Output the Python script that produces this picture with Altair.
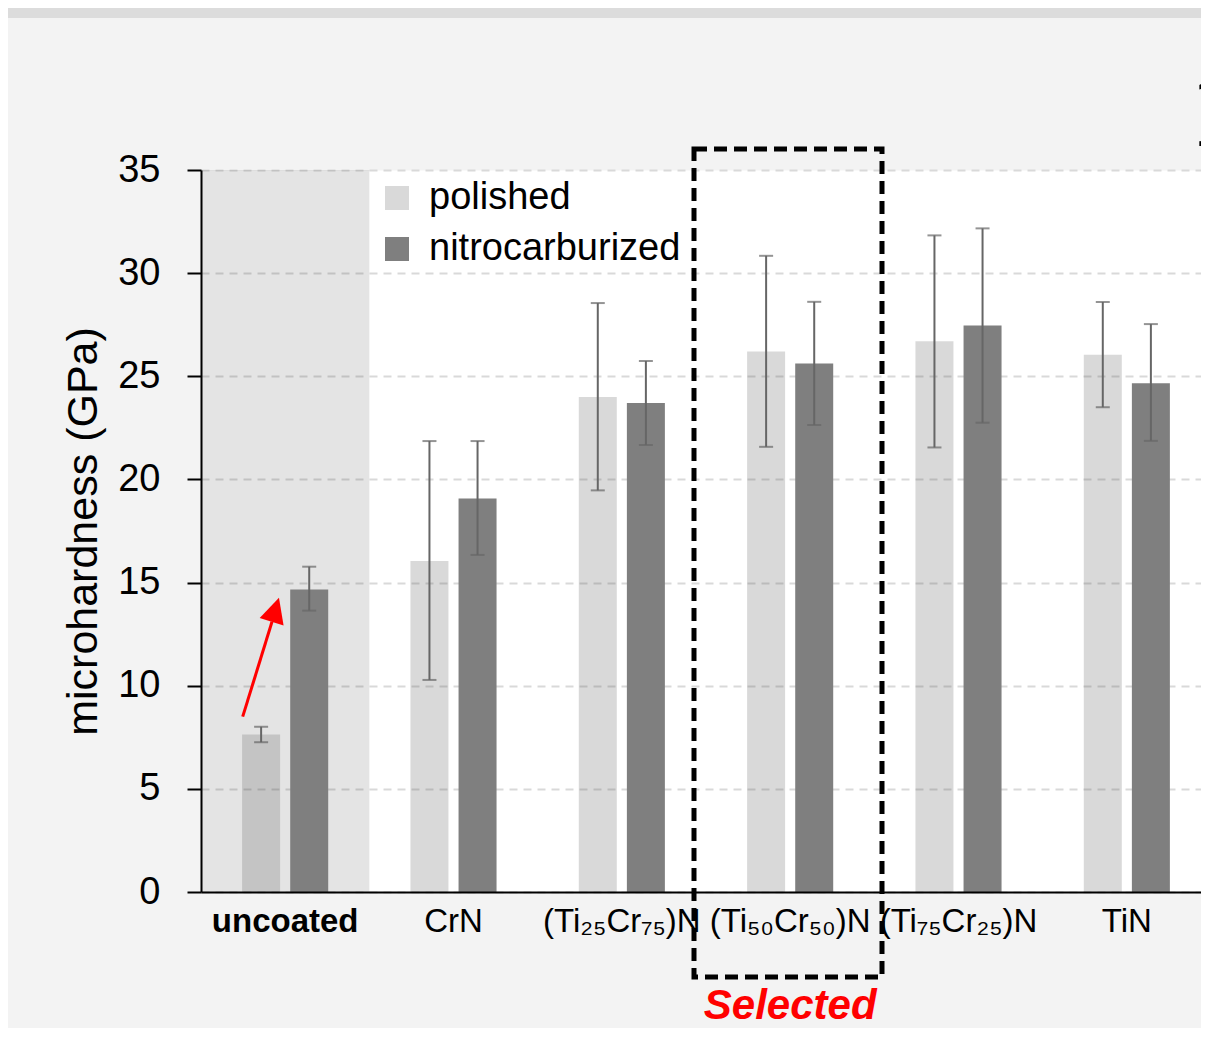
import altair as alt
import pandas as pd

# ---- data ----
categories = ["uncoated", "CrN", "(Ti₂₅Cr₇₅)N", "(Ti₅₀Cr₅₀)N", "(Ti₇₅Cr₂₅)N", "TiN"]
series = ["polished", "nitrocarburized"]

polished = [7.63, 16.05, 24.0, 26.2, 26.7, 26.05]
polished_lo = [7.26, 10.28, 19.47, 21.58, 21.55, 23.5]
polished_hi = [8.01, 21.86, 28.55, 30.84, 31.83, 28.6]

nitro = [14.67, 19.08, 23.7, 25.62, 27.46, 24.66]
nitro_lo = [13.64, 16.34, 21.67, 22.64, 22.75, 21.87]
nitro_hi = [15.77, 21.86, 25.74, 28.61, 32.17, 27.53]

y_ticks = [0, 5, 10, 15, 20, 25, 30, 35]

rows = []
for i, c in enumerate(categories):
    rows.append({"cat": c, "series": "polished", "v": polished[i], "lo": polished_lo[i], "hi": polished_hi[i]})
    rows.append({"cat": c, "series": "nitrocarburized", "v": nitro[i], "lo": nitro_lo[i], "hi": nitro_hi[i]})
df = pd.DataFrame(rows)

FONT = "Liberation Sans"
W, H = 1000, 722
XR = 1010  # band range extends past the visible edge, as in the cropped original

xscale = alt.Scale(domain=categories, paddingInner=0, paddingOuter=0, range=[0, XR])
xoff_scale = alt.Scale(domain=series, paddingInner=0.208, paddingOuter=0.854)
yscale = alt.Scale(domain=[0, 35], nice=False, zero=True)

one = alt.Data(values=[{"k": 1}])

# top strip of the page
strip = alt.Chart(one).mark_rect(color="#dcdcdc").encode(
    x=alt.value(-193), x2=alt.value(W), y=alt.value(-162), y2=alt.value(-152)
)

# translucent band behind the uncoated group
shade = alt.Chart(alt.Data(values=[{"cat": "uncoated"}])).mark_rect(color="black", opacity=0.105).encode(
    x=alt.X("cat:N", scale=xscale, sort=categories),
    y=alt.datum(0), y2=alt.datum(35),
)

base = alt.Chart(df)

bars = base.mark_bar(size=38).encode(
    x=alt.X("cat:N", scale=xscale, sort=categories,
            axis=alt.Axis(title=None, labelAngle=0, labelAlign="center", labelBaseline="top",
                          labelFontSize=33, labelFont=FONT,
                          labelColor="black", labelPadding=13, ticks=False,
                          domainColor="black", domainWidth=2, labelOverlap=False,
                          labelLimit=300, grid=False,
                          labelFontWeight={"condition": {"test": "datum.value == 'uncoated'", "value": "bold"}, "value": "normal"})),
    xOffset=alt.XOffset("series:N", scale=xoff_scale, sort=series),
    y=alt.Y("v:Q", scale=yscale,
            axis=alt.Axis(title="microhardness (GPa)", values=y_ticks, labelFontSize=38,
                          labelFont=FONT, labelColor="black", labelPadding=27,
                          tickSize=14, tickColor="black", tickWidth=2,
                          domainColor="black", domainWidth=2,
                          grid=True, gridColor="#d9d9d9", gridDash=[8, 6], gridWidth=2,
                          titleFont=FONT, titleFontSize=43, titleFontWeight="normal",
                          titleColor="black", titlePadding=12)),
    color=alt.Color("series:N", sort=series,
                    scale=alt.Scale(domain=series, range=["#545454", "#7f7f7f"]),
                    legend=alt.Legend(title=None, orient="none", legendX=177, legendY=9,
                                      labelFont=FONT, labelFontSize=38, labelColor="black",
                                      symbolType="square", symbolSize=576, symbolStrokeWidth=0,
                                      rowPadding=13, labelOffset=13, labelLimit=400)),
    opacity=alt.Opacity("series:N", sort=series,
                        scale=alt.Scale(domain=series, range=[0.222, 1.0]), legend=None),
)

err = base.mark_rule(color="#666666", strokeWidth=2).encode(
    x=alt.X("cat:N", scale=xscale, sort=categories),
    xOffset=alt.XOffset("series:N", scale=xoff_scale, sort=series),
    y="lo:Q", y2="hi:Q",
)
cap_lo = base.mark_tick(color="#666666", size=14, thickness=2, orient="horizontal").encode(
    x=alt.X("cat:N", scale=xscale, sort=categories),
    xOffset=alt.XOffset("series:N", scale=xoff_scale, sort=series),
    y="lo:Q",
)
cap_hi = base.mark_tick(color="#666666", size=14, thickness=2, orient="horizontal").encode(
    x=alt.X("cat:N", scale=xscale, sort=categories),
    xOffset=alt.XOffset("series:N", scale=xoff_scale, sort=series),
    y="hi:Q",
)

# red arrow
arrow_line = alt.Chart(one).mark_rule(color="#ff0000", strokeWidth=3).encode(
    x=alt.value(41.7), x2=alt.value(71), y=alt.datum(8.5), y2=alt.datum(13.1)
)
arrow_head = alt.Chart(one).mark_point(
    shape="M0,-1L1,1L-1,1Z", filled=True, color="#ff0000", opacity=1, size=625, angle=17
).encode(x=alt.value(74.3), y=alt.datum(13.68))

# dashed selection box
box = alt.Chart(one).mark_rect(fillOpacity=0, stroke="black", strokeWidth=5, strokeDash=[13, 7]).encode(
    x=alt.value(493), x2=alt.value(681), y=alt.value(-21), y2=alt.value(807)
)

selected = alt.Chart(alt.Data(values=[{"cat": "(Ti₅₀Cr₅₀)N", "t": "Selected"}])).mark_text(
    font=FONT, fontSize=42, fontWeight="bold", fontStyle="italic", color="#ff0000",
    baseline="alphabetic", align="center"
).encode(x=alt.X("cat:N", scale=xscale, sort=categories), y=alt.value(849), text="t:N")

corner = alt.Chart(alt.Data(values=[{"t": "1"}])).mark_text(
    font="Liberation Serif", fontSize=110, fontWeight="bold", color="black",
    baseline="alphabetic", align="center"
).encode(x=alt.value(1017), y=alt.value(-24), text="t:N")

chart = alt.layer(strip, shade, bars, err, cap_lo, cap_hi, arrow_line, arrow_head, box, selected, corner).properties(
    width=W, height=H,
    autosize=alt.AutoSizeParams(type="none"),
    padding={"left": 193, "top": 162, "right": 0, "bottom": 136},
    background="#f3f3f3",
).configure_view(fill="white", strokeOpacity=0)

chart.save("out.html", embed_options={"renderer": "svg", "actions": False})
